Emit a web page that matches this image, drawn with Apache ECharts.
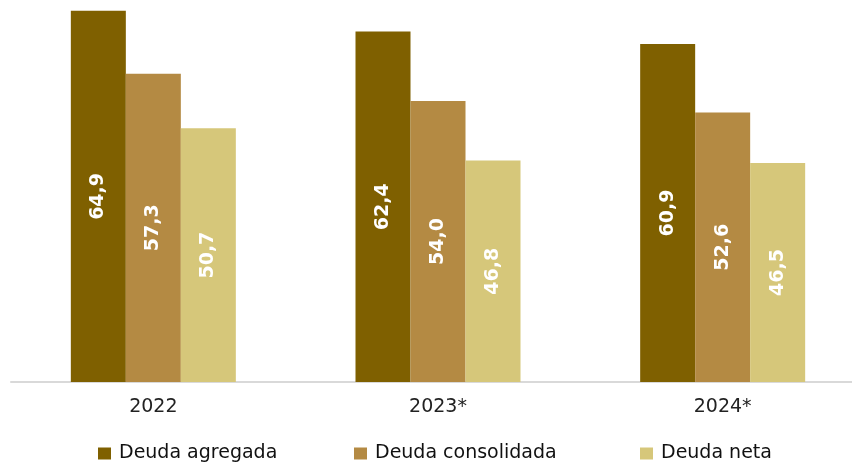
<!DOCTYPE html>
<html>
<head>
<meta charset="utf-8">
<script src="https://cdn.jsdelivr.net/npm/echarts@6/dist/echarts.min.js"></script>
<style>
  html, body { margin: 0; padding: 0; background: #ffffff; }
  #chart { width: 852px; height: 464px; }
</style>
</head>
<body>
<div id="chart"></div>
<script>
  // datos
  const years = ['2022', '2023*', '2024*'];
  const deudaAgregada = [64.9, 62.4, 60.9];
  const deudaConsolidada = [57.3, 54.0, 52.6];
  const deudaNeta = [50.7, 46.8, 46.5];

  const chart = echarts.init(document.getElementById('chart'));

  const fmt = p => p.value.toFixed(1).replace('.', ',');

  function barSerie(name, data, color) {
    return {
      name: name,
      type: 'bar',
      data: data,
      barWidth: 55,
      barGap: '0%',
      itemStyle: { color: color },
      label: {
        show: true,
        position: 'inside',
        rotate: 90,
        formatter: fmt,
        color: '#ffffff',
        fontFamily: 'DejaVu Sans',
        fontWeight: 'bold',
        fontSize: 19
      }
    };
  }

  function legendItem(name, left) {
    return {
      data: [name],
      left: left,
      top: 439,
      itemWidth: 13,
      itemHeight: 12,
      itemGap: 0,
      icon: 'rect',
      textStyle: { fontFamily: 'DejaVu Sans', fontSize: 19, color: '#111', padding: [0, 0, 0, 3] }
    };
  }

  const option = {
    animation: false,
    grid: { left: 11, width: 854, top: 10, bottom: 82, outerBoundsMode: 'none', containLabel: false },
    legend: [
      legendItem('Deuda agregada', 93),
      legendItem('Deuda consolidada', 349),
      legendItem('Deuda neta', 635)
    ],
    xAxis: {
      type: 'category',
      data: years,
      axisLine: { lineStyle: { color: '#d9d9d9', width: 2 } },
      axisTick: { show: false },
      axisLabel: { fontFamily: 'DejaVu Sans', fontSize: 19, color: '#222', margin: 16 }
    },
    yAxis: {
      type: 'value',
      min: 20,
      max: 65,
      show: false
    },
    series: [
      barSerie('Deuda agregada', deudaAgregada, '#7f6000'),
      barSerie('Deuda consolidada', deudaConsolidada, '#b48a43'),
      barSerie('Deuda neta', deudaNeta, '#d6c77a')
    ]
  };

  chart.setOption(option);
</script>
</body>
</html>
